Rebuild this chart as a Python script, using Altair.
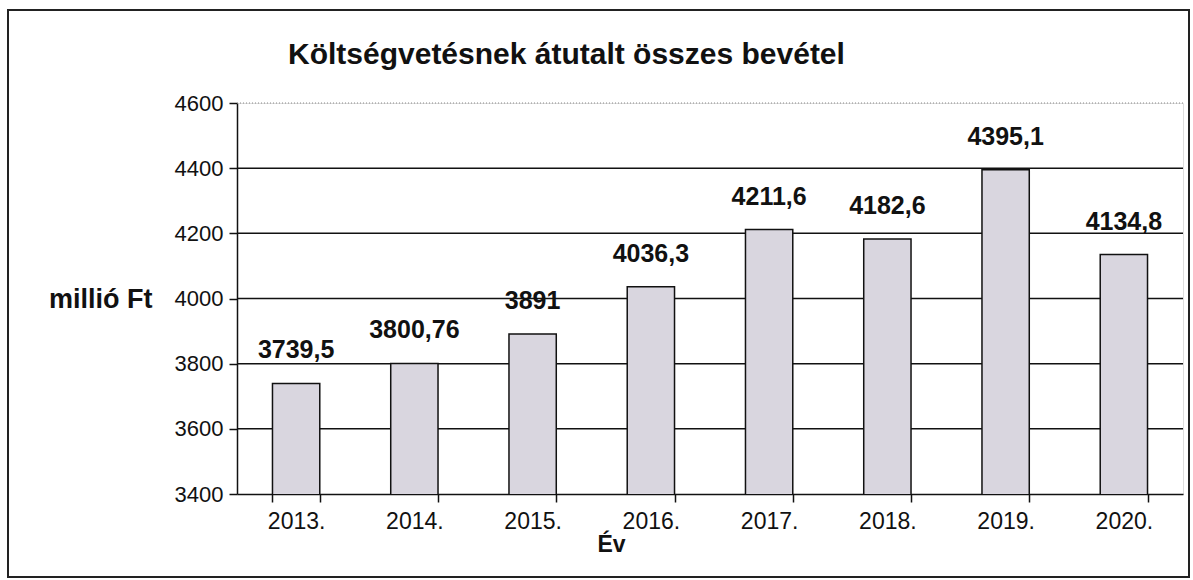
import altair as alt
import pandas as pd

years = ["2013.", "2014.", "2015.", "2016.", "2017.", "2018.", "2019.", "2020."]
values = [3739.5, 3800.76, 3891, 4036.3, 4211.6, 4182.6, 4395.1, 4134.8]
grid_solid = [3600, 3800, 4000, 4200, 4400]
grid_dotted = [4600]
y_ticks = [3400, 3600, 3800, 4000, 4200, 4400, 4600]
title_text = ["Költségvetésnek átutalt összes bevétel"]

df = pd.DataFrame({
    "ev": years,
    "ertek": values,
    "cimke": [f"{v:g}".replace(".", ",") for v in values],
})
gdf = pd.DataFrame({"g": grid_solid})
gdf2 = pd.DataFrame({"g": grid_dotted})

FONT = "Liberation Sans"
W, H = 946, 391

yscale = alt.Scale(domain=[3400, 4600], nice=False, zero=False)
xscale = alt.Scale(domain=years, paddingInner=0.6, paddingOuter=0.3)

yaxis = alt.Axis(
    title="millió Ft", titleAngle=0, titleFont=FONT, titleFontSize=27,
    titleFontWeight="bold", titleColor="#111", titleAlign="right",
    titleBaseline="middle", titleX=-85, titleY=196,
    values=y_ticks, format="d", labelFont=FONT, labelFontSize=22, labelColor="#111",
    labelPadding=6, tickSize=8, tickColor="#111", tickWidth=1.5,
    domainColor="#111", domainWidth=1.5, grid=False)

xaxis = alt.Axis(
    title="Év", titleFont=FONT, titleFontSize=23, titleFontWeight="bold",
    titleColor="#111", titleX=374, titlePadding=0,
    labelFont=FONT, labelFontSize=23, labelColor="#111", labelAngle=0,
    labelPadding=8, tickBand="extent", tickSize=8, tickColor="#111",
    tickWidth=1.5, domainColor="#111", domainWidth=1.5, grid=False)

grid = alt.Chart(gdf).mark_rule(color="#111", strokeWidth=1.5).encode(
    y=alt.Y("g:Q", scale=yscale, axis=yaxis)
)
grid_top = alt.Chart(gdf2).mark_rule(color="#888", strokeWidth=1, strokeDash=[1, 2]).encode(
    y=alt.Y("g:Q", scale=yscale)
)

base = alt.Chart(df)

bars = base.mark_bar(fill="#d9d6df", stroke="#111", strokeWidth=1.5, clip=True).encode(
    x=alt.X("ev:N", scale=xscale, sort=years, axis=xaxis),
    y=alt.Y("ertek:Q", scale=yscale),
)

labels = base.mark_text(
    font=FONT, fontSize=25, fontWeight="bold", color="#111",
    baseline="bottom", dy=-20
).encode(
    x=alt.X("ev:N", scale=xscale, sort=years),
    y=alt.Y("ertek:Q", scale=yscale),
    text="cimke:N",
)

title = alt.Chart(pd.DataFrame({"t": title_text})).mark_text(
    font=FONT, fontSize=30, fontWeight="bold", color="#111",
    align="left", baseline="alphabetic"
).encode(x=alt.value(51), y=alt.value(-39), text="t:N")

frame = alt.Chart(pd.DataFrame({"a": [0]})).mark_rect(
    fill=None, stroke="#222", strokeWidth=2
).encode(
    x=alt.value(-229), x2=alt.value(952), y=alt.value(-93), y2=alt.value(474)
)

chart = alt.layer(grid, grid_top, bars, labels, title, frame).properties(
    width=W, height=H,
    autosize=alt.AutoSizeParams(type="none"),
    padding={"left": 237, "top": 103, "right": 10, "bottom": 86},
).configure_view(stroke=None).configure(background="white")

chart.save("out.html", embed_options={"renderer": "svg", "actions": False})
